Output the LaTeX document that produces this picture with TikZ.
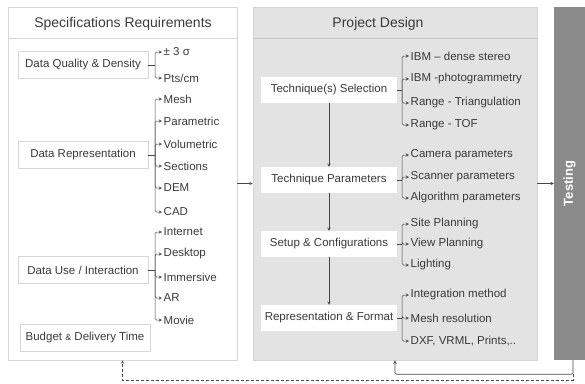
\documentclass[tikz,border=0pt]{standalone}
\usepackage{fontspec}
\setmainfont{Liberation Sans}
\definecolor{txt}{HTML}{3A3A3A}
\definecolor{edge}{HTML}{D6D6D6}
\definecolor{pdfill}{HTML}{E3E3E3}
\definecolor{tstfill}{HTML}{8A8A8A}
\definecolor{wire}{HTML}{464646}
\tikzset{
	panel/.style={minimum height=353pt, inner sep=0pt},
	box/.style={draw=edge, line width=0.7pt, fill=white, minimum width=130pt, minimum height=27pt,
		font=\fontsize{11.5}{13}\selectfont, text=txt},
	pdbox/.style={fill=white, minimum width=136pt, minimum height=26pt,
		font=\fontsize{11.5}{13}\selectfont, text=txt},
	item/.style={anchor=west, inner sep=1.5pt, font=\fontsize{11.5}{13}\selectfont, text=txt},
	title/.style={font=\fontsize{14}{16}\selectfont, text=txt},
	tip/.style={-stealth, draw=wire, line width=0.5pt, rounded corners=1.5pt},
}
\begin{document}
\begin{tikzpicture}[x=1pt, y=-1pt]
	\useasboundingbox (0,0) rectangle (585,383);

	\node[panel, draw=edge, line width=0.8pt, minimum width=229pt] (spec) at (122.5,183.5) {};
	\node[panel, draw=edge, fill=pdfill, line width=0.8pt, minimum width=284pt] (design) at (395,183.5) {};
	\node[panel, fill=tstfill, minimum width=31pt] (testing) at (569.5,183.5) {};

	\node[title] (spec_t) at (123,24) {Specifications Requirements};
	\node[title] (design_t) at (378,24) {Project Design};
	\node[rotate=90, font=\bfseries\fontsize{13}{15}\selectfont, text=white] (testing_t) at (569.5,183.5) {Testing};
	\draw[edge, line width=0.7pt] (8,38) -- (237,38);
	\draw[edge!80!gray, line width=0.5pt] (253,38) -- (537,38);

	\node[box] (dq) at (83,65) {Data Quality \& Density};
	\node[box] (dr) at (83,155) {Data Representation};
	\node[box] (du) at (83,270) {Data Use / Interaction};
	\node[box] (bd) at (85,338) {Budget {\fontsize{9}{10}\selectfont\&} Delivery Time};

	\node[pdbox] (ts) at (329,90) {Technique(s) Selection};
	\node[pdbox] (tp) at (329,180) {Technique Parameters};
	\node[pdbox] (sc) at (329,244) {Setup \& Configurations};
	\node[pdbox] (rf) at (329,318) {Representation \& Format};

	\coordinate (dq_b) at (155,65);
	\coordinate (dr_b) at (155,155);
	\coordinate (du_b) at (155,270);
	\coordinate (ts_b) at (402,90);
	\coordinate (tp_b) at (402,180);
	\coordinate (sc_b) at (402,244);
	\coordinate (rf_b) at (402,318);
	\foreach \b in {dq,dr,du,ts,tp,sc,rf}
	{
		\draw[wire, line width=0.5pt] (\b) -- (\b_b);
	}

	\foreach \y/\t [count=\i] in {52/{± 3 σ}, 78/{Pts/cm}}
	{
		\node[item] (dq_\i) at (162,\y) {\t};
		\draw[tip] (dq_b) |- (dq_\i.west);
	}
	\foreach \y/\t [count=\i] in {99/Mesh, 121/Parametric, 144/Volumetric, 166/Sections, 188/DEM, 212/CAD}
	{
		\node[item] (dr_\i) at (162,\y) {\t};
		\draw[tip] (dr_b) |- (dr_\i.west);
	}
	\foreach \y/\t [count=\i] in {232/Internet, 254/Desktop, 277/Immersive, 298/AR, 320/Movie}
	{
		\node[item] (du_\i) at (162,\y) {\t};
		\draw[tip] (du_b) |- (du_\i.west);
	}
	\foreach \y/\t [count=\i] in {56/IBM – dense stereo, 79/IBM -photogrammetry, 103/Range - Triangulation, 125/Range - TOF}
	{
		\node[item] (ts_\i) at (409,\y) {\t};
		\draw[tip] (ts_b) |- (ts_\i.west);
	}
	\foreach \y/\t [count=\i] in {155/Camera parameters, 177/Scanner parameters, 198/Algorithm parameters}
	{
		\node[item] (tp_\i) at (409,\y) {\t};
		\draw[tip] (tp_b) |- (tp_\i.west);
	}
	\foreach \y/\t [count=\i] in {224/Site Planning, 244/View Planning, 265/Lighting}
	{
		\node[item] (sc_\i) at (409,\y) {\t};
		\draw[tip] (sc_b) |- (sc_\i.west);
	}
	\foreach \y/\t [count=\i] in {295/Integration method, 318/Mesh resolution, 341/{DXF, VRML, Prints,..}}
	{
		\node[item] (rf_\i) at (409,\y) {\t};
		\draw[tip] (rf_b) |- (rf_\i.west);
	}

	\draw[tip] (ts) -- (tp);
	\draw[tip] (tp) -- (sc);
	\draw[tip] (sc) -- (rf);

	\draw[tip] (spec.east) -- (design.west);
	\draw[tip] (design.east) -- (testing.west);

	\coordinate (fb) at ([xshift=3.5pt, yshift=-14pt]testing.south);
	\draw[tip, line width=0.6pt] ([xshift=3.5pt]testing.south) -- (fb) -| (design.south);
	\draw[tip, dashed, dash pattern=on 3pt off 2pt, rounded corners=0pt] (fb) -- ++(0,6) -| (spec.south);
\end{tikzpicture}
\end{document}
